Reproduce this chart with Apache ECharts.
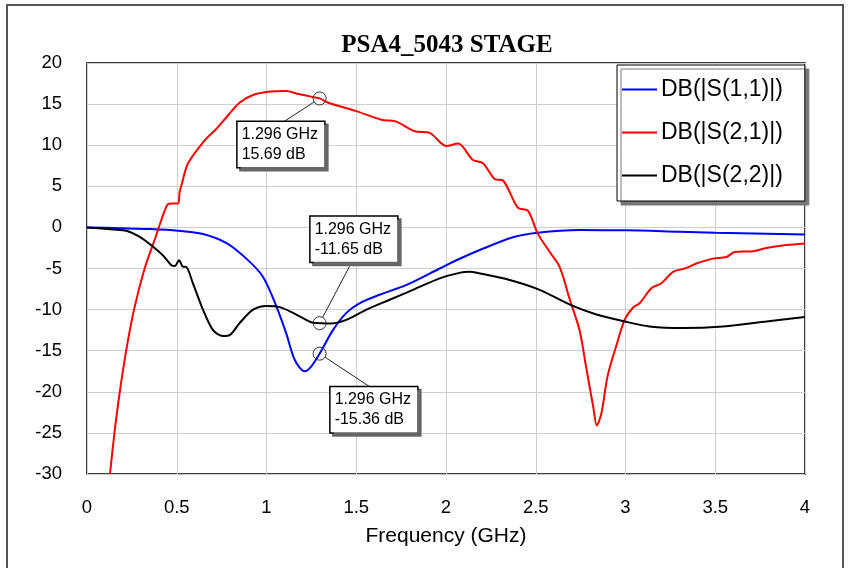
<!DOCTYPE html>
<html>
<head>
<meta charset="utf-8">
<script src="https://cdn.jsdelivr.net/npm/echarts@6/dist/echarts.min.js"></script>
<style>html,body{margin:0;padding:0;background:#fff;}#c{width:848px;height:568px;}</style>
</head>
<body>
<div id="c"></div>
<script>
const chartTitle = 'PSA4_5043 STAGE';
const xAxisName = 'Frequency (GHz)';
const seriesNames = ['DB(|S(1,1)|)', 'DB(|S(2,1)|)', 'DB(|S(2,2)|)'];

const s11Freq = [0, 0.19, 0.35, 0.507, 0.646, 0.777, 0.888, 0.98, 1.055, 1.11, 1.157, 1.213, 1.25, 1.296, 1.37, 1.445, 1.52, 1.63, 1.78, 1.965, 2.058, 2.188, 2.373, 2.51, 2.745, 3.0, 3.3, 3.5, 4.0];
const s11dB   = [0, -0.1, -0.2, -0.4, -0.8, -1.9, -3.8, -6.0, -9.6, -12.9, -16.1, -17.5, -16.9, -15.36, -12.5, -10.4, -9.2, -8.2, -7.0, -5.0, -4.0, -2.75, -1.2, -0.65, -0.33, -0.35, -0.53, -0.65, -0.85];

const s21Freq = [0.128, 0.153, 0.182, 0.219, 0.262, 0.321, 0.377, 0.40, 0.446, 0.47, 0.507, 0.516, 0.526, 0.563, 0.656, 0.721, 0.777, 0.851, 0.925, 1.008, 1.11, 1.167, 1.26, 1.296, 1.352, 1.50, 1.64, 1.72, 1.826, 1.909, 2.002, 2.067, 2.15, 2.206, 2.27, 2.318, 2.40, 2.457, 2.51, 2.578, 2.633, 2.69, 2.744, 2.78, 2.82, 2.84, 2.866, 2.90, 2.95, 2.996, 3.04, 3.08, 3.144, 3.2, 3.265, 3.33, 3.395, 3.487, 3.562, 3.608, 3.71, 3.785, 3.896, 4.0];
const s21dB   = [-30, -25, -20.1, -14.9, -10, -5, -1.5, 0, 2.7, 2.9, 2.9, 4.3, 5.1, 7.8, 10.6, 12.0, 13.4, 15.2, 16.1, 16.5, 16.6, 16.3, 15.85, 15.69, 15.1, 14.15, 13.1, 12.9, 11.7, 11.5, 9.9, 10.2, 8.2, 7.8, 5.9, 5.7, 2.4, 2.0, -0.7, -3.0, -4.8, -8.8, -12.5, -16.9, -21.8, -24.1, -22.6, -18.1, -14.3, -11.2, -9.8, -9.2, -7.4, -6.8, -5.4, -5.0, -4.4, -3.8, -3.6, -3.0, -2.9, -2.5, -2.15, -1.95];

const s22Freq = [0, 0.145, 0.219, 0.294, 0.368, 0.423, 0.47, 0.489, 0.513, 0.535, 0.55, 0.59, 0.646, 0.702, 0.758, 0.795, 0.85, 0.925, 0.999, 1.074, 1.166, 1.26, 1.296, 1.352, 1.445, 1.557, 1.686, 1.816, 1.965, 2.08, 2.13, 2.188, 2.355, 2.522, 2.69, 2.838, 2.996, 3.134, 3.32, 3.543, 3.785, 4.0];
const s22dB   = [0, -0.25, -0.4, -1.15, -2.35, -3.4, -4.6, -4.7, -4.0, -4.8, -4.8, -6.8, -10.0, -12.5, -13.2, -13.1, -11.65, -10.0, -9.55, -9.7, -10.6, -11.6, -11.65, -11.7, -11.25, -10.0, -8.8, -7.6, -6.2, -5.5, -5.4, -5.6, -6.4, -7.6, -9.4, -10.6, -11.45, -12.05, -12.25, -12.05, -11.45, -10.9];

const markerFreq = [1.296, 1.296, 1.296];
const markerdB   = [15.69, -11.65, -15.36];

const zip = (xs, ys) => xs.map((x, i) => [x, ys[i]]);
const font = 'Liberation Sans, Arial, sans-serif';

const chart = echarts.init(document.getElementById('c'), null, {renderer: 'canvas'});
const lineSeries = (name, color, xs, ys) => ({
  name, type: 'line', data: zip(xs, ys), symbol: 'none', smooth: 0.3,
  lineStyle: {color, width: 2}, itemStyle: {color}, z: 3
});

// annotation box offsets (px, relative to marker) and leader-line end offsets
const markerOffsets = [[-82, 46], [-9, -84], [11, 56]];
const leaderEnds = [[-37, 24], [30, -57], [53, 35]];
const markerRadius = 6.5;

chart.setOption({
  animation: false,
  backgroundColor: '#fff',
  title: {
    text: chartTitle, left: 442, textAlign: 'center', top: 28,
    textStyle: {fontFamily: 'Liberation Serif, Times New Roman, serif', fontWeight: 'bold', fontSize: 25, color: '#000'}
  },
  grid: {left: 87, top: 63, width: 718, height: 411, show: true, borderColor: '#000', borderWidth: 1.5, backgroundColor: 'transparent'},
  legend: {
    orient: 'vertical', left: 617, top: 65, data: seriesNames,
    backgroundColor: '#fff', borderColor: '#000', borderWidth: 1,
    shadowColor: '#777', shadowOffsetX: 4, shadowOffsetY: 4, shadowBlur: 0,
    padding: [13, 22, 14, 5], itemGap: 20, itemWidth: 35, itemHeight: 2, icon: 'rect',
    textStyle: {fontFamily: font, fontSize: 23, color: '#000', padding: [0, 0, 0, -1]}
  },
  xAxis: {
    type: 'value', min: 0, max: 4, interval: 0.5,
    name: xAxisName, nameLocation: 'middle', nameGap: 52,
    nameTextStyle: {fontFamily: font, fontSize: 21, color: '#000'},
    axisLine: {show: false}, axisTick: {show: false},
    axisLabel: {fontFamily: font, fontSize: 18.5, color: '#000', margin: 24},
    splitLine: {show: true, lineStyle: {color: '#cfcfcf', width: 1}}
  },
  yAxis: {
    type: 'value', min: -30, max: 20, interval: 5,
    axisLine: {show: false}, axisTick: {show: false},
    axisLabel: {fontFamily: font, fontSize: 18.5, color: '#000', margin: 25},
    splitLine: {show: true, lineStyle: {color: '#cfcfcf', width: 1}}
  },
  series: [
    lineSeries(seriesNames[0], '#0000ff', s11Freq, s11dB),
    lineSeries(seriesNames[1], '#ff0000', s21Freq, s21dB),
    lineSeries(seriesNames[2], '#000000', s22Freq, s22dB),
    {
      name: 'markers', type: 'scatter', z: 5,
      data: zip(markerFreq, markerdB),
      symbol: 'circle', symbolSize: 13,
      itemStyle: {color: 'transparent', borderColor: '#333', borderWidth: 1, opacity: 1},
      label: {
        show: true, position: 'inside', opacity: 1,
        formatter: p => p.value[0].toFixed(3) + ' GHz\n' + p.value[1].toFixed(2) + ' dB',
        fontFamily: font, fontSize: 16, color: '#000', lineHeight: 20, align: 'left',
        backgroundColor: '#ffffff', borderColor: '#000', borderWidth: 1.5,
        padding: [3, 6, 2, 4],
        shadowColor: '#666', shadowOffsetX: 3, shadowOffsetY: 3, shadowBlur: 0
      },
      labelLayout: p => ({dx: markerOffsets[p.dataIndex][0], dy: markerOffsets[p.dataIndex][1], align: 'left', verticalAlign: 'middle'}),
      emphasis: {disabled: true}, silent: true
    }
  ]
});

// leader lines from marker circle edge to annotation boxes (marker positions via the chart's own scales)
const leaders = markerFreq.map((f, i) => {
  const [px, py] = chart.convertToPixel({gridIndex: 0}, [f, markerdB[i]]);
  const [ex, ey] = leaderEnds[i];
  const len = Math.hypot(ex, ey);
  return {
    type: 'line', silent: true, z: 4,
    shape: {x1: px + ex / len * markerRadius, y1: py + ey / len * markerRadius, x2: px + ex, y2: py + ey},
    style: {stroke: '#222', lineWidth: 1}
  };
});
chart.setOption({
  graphic: [{
    type: 'rect', shape: {x: 7, y: 5, width: 836, height: 600},
    style: {fill: 'none', stroke: '#555', lineWidth: 2}, silent: true
  }].concat(leaders)
});
</script>
</body>
</html>
